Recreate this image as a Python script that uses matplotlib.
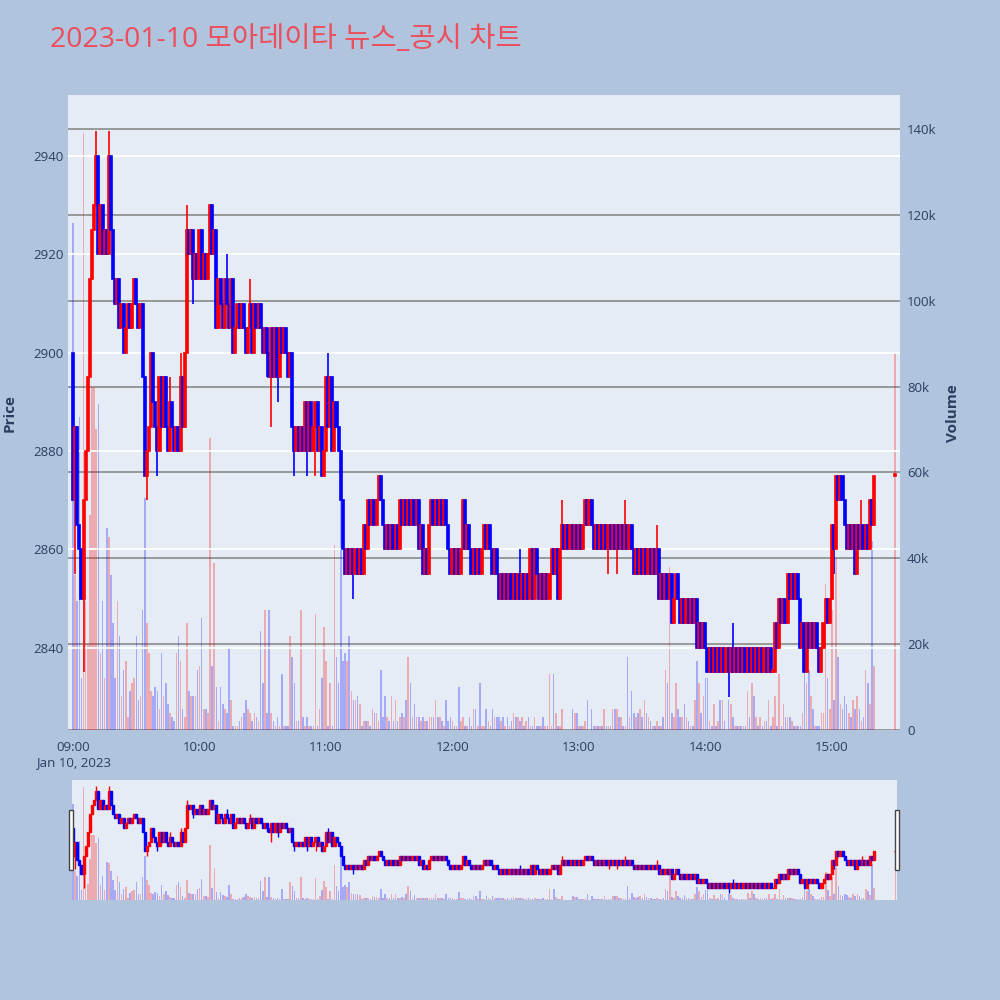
import matplotlib
matplotlib.use("Agg")
import matplotlib.pyplot as plt
from matplotlib.patches import Rectangle

plt.rcParams['font.family'] = ['Open Sans', 'Noto Sans CJK KR', 'DejaVu Sans']

title = '2023-01-10 모아데이타 뉴스_공시 차트'

# one close per minute from 09:00 (minute 0) to 15:20 (minute 380)
first_open = 2900
closes = [
    2870, 2885, 2865, 2860, 2850, 2870, 2880, 2895, 2915, 2925, 2930, 2940,   # 09:00
    2920, 2930, 2920, 2925, 2920, 2940, 2925, 2915, 2910, 2915, 2905, 2910,
    2900, 2905, 2910, 2905, 2910, 2915, 2910, 2905, 2910, 2895, 2875, 2880,
    2885, 2900, 2890, 2885, 2880, 2895, 2885, 2895,
    2885, 2880, 2890, 2885, 2880, 2885, 2880, 2895, 2885, 2900, 2925, 2920,
    2925, 2915, 2920, 2915, 2925, 2915, 2920, 2915, 2920, 2930, 2920, 2925,   # 10:00
    2905, 2915, 2910, 2905, 2915, 2910, 2905, 2915, 2900, 2905, 2910, 2905,
    2910, 2905, 2900, 2905, 2910, 2900, 2910, 2905, 2910, 2905, 2900, 2905,
    2900, 2895, 2905, 2895, 2905, 2895, 2905, 2900, 2905, 2900, 2895, 2900,
    2885, 2880, 2885, 2880, 2885, 2880, 2890, 2880, 2890, 2880, 2885, 2890,
    2880, 2885, 2875, 2880, 2895, 2885, 2895, 2880, 2890, 2885, 2880, 2870,   # 11:00
    2860, 2855, 2860, 2855, 2860, 2855, 2860, 2855, 2860, 2855, 2865, 2860,
    2870, 2865, 2870, 2865, 2870, 2875, 2870, 2865, 2860, 2865, 2860, 2865,
    2860, 2865, 2860, 2870, 2865, 2870, 2865, 2870, 2865, 2870, 2865, 2870,
    2860, 2865, 2855, 2860, 2855, 2865, 2870, 2865, 2870, 2865, 2870, 2865,
    2870, 2865, 2860, 2855, 2860, 2855, 2860, 2855, 2860, 2870, 2860, 2865,   # 12:00
    2860, 2855, 2860, 2855, 2860, 2855, 2860, 2865, 2860, 2865, 2860, 2855,
    2860, 2855, 2850, 2855, 2850, 2855, 2850, 2855, 2850, 2855, 2850, 2855,
    2850, 2855, 2850, 2855, 2850, 2860, 2850, 2860, 2855, 2850, 2855, 2850,
    2855, 2850, 2855, 2860, 2855, 2860, 2850, 2860, 2865, 2860, 2865, 2860,
    2865, 2860, 2865, 2860, 2865, 2860, 2865, 2870, 2865, 2870, 2865, 2860,   # 13:00
    2865, 2860, 2865, 2860, 2865, 2860, 2865, 2860, 2865, 2860, 2865, 2860,
    2865, 2860, 2865, 2860, 2865, 2860, 2855, 2860, 2855, 2860, 2855, 2860,
    2855, 2860, 2855, 2860, 2855, 2860, 2850, 2855, 2850, 2855, 2850, 2855,
    2845, 2850, 2855, 2850, 2845, 2850, 2845, 2850, 2845, 2850, 2845, 2850,
    2840, 2845, 2840, 2845, 2840, 2835, 2840, 2835, 2840, 2835, 2840, 2835,   # 14:00
    2840, 2835, 2840, 2835, 2840, 2835, 2840, 2835, 2840, 2835, 2840, 2835,
    2840, 2835, 2840, 2835, 2840, 2835, 2840, 2835, 2840, 2835, 2840, 2835,
    2835, 2845, 2840, 2850, 2845, 2850, 2845, 2855, 2850, 2855, 2850, 2855,
    2850, 2840, 2845, 2835, 2845, 2840, 2845, 2840, 2845, 2840, 2835, 2840,
    2845, 2850, 2845, 2850, 2865, 2860, 2875, 2870, 2875, 2870, 2865, 2860,   # 15:00
    2865, 2860, 2865, 2855, 2865, 2860, 2865, 2860, 2865, 2860, 2870, 2865, 2875,
]
high_wicks = {11: 2945, 17: 2945, 46: 2895, 51: 2900, 54: 2930, 73: 2920,
              84: 2915, 121: 2900, 212: 2860, 232: 2870, 243: 2870, 262: 2870,
              277: 2865, 313: 2845, 374: 2870}
low_wicks = {1: 2855, 5: 2835, 35: 2870, 40: 2875, 57: 2910, 92: 2895, 94: 2885,
             97: 2890, 105: 2875, 111: 2875, 115: 2875, 133: 2850, 254: 2855,
             258: 2855, 311: 2830, 361: 2855}

# volume per minute, thousands
volumes = [
    118, 36, 30, 73, 12, 139, 30, 20, 50, 80, 80, 70,
    76, 18, 30, 12, 47, 45, 36, 25, 12, 30, 22, 8,
    14, 16, 3, 9, 11, 12, 22, 7, 8, 28, 54, 25,
    18, 9, 8, 10, 9, 5, 18, 8,
    11, 6, 4, 3, 2, 18, 22, 16, 5, 3, 25, 9,
    8, 8, 8, 14, 15, 26, 5, 5, 4, 68, 15, 39,
    10, 2, 10, 6, 5, 4, 19, 7, 1, 1, 1, 2,
    3, 4, 7, 5, 4, 2, 4, 3, 2, 23, 11, 28,
    4, 28, 4, 2, 1, 3, 1, 13, 1, 1, 1, 22,
    17, 11, 2, 2, 28, 3, 1, 3, 1, 1, 1, 27,
    1, 5, 12, 24, 16, 1, 11, 1, 43, 17, 11, 64,
    16, 18, 16, 22, 9, 7, 7, 8, 6, 1, 2, 2,
    2, 1, 5, 4, 4, 2, 14, 3, 8, 3, 2, 8,
    2, 7, 2, 3, 4, 3, 7, 17, 11, 3, 6, 3,
    3, 2, 3, 2, 2, 3, 3, 3, 7, 3, 3, 2,
    1, 7, 2, 3, 2, 1, 1, 10, 2, 3, 1, 1,
    3, 1, 5, 5, 1, 11, 1, 1, 5, 2, 1, 5,
    3, 3, 3, 2, 3, 1, 3, 1, 2, 4, 3, 3,
    2, 3, 1, 2, 3, 1, 1, 3, 1, 1, 1, 3,
    1, 1, 13, 1, 13, 4, 1, 1, 5, 0, 0, 0,
    0, 5, 4, 4, 1, 1, 1, 2, 7, 0, 5, 1,
    1, 1, 1, 1, 5, 1, 1, 1, 5, 5, 5, 3,
    3, 1, 1, 17, 3, 9, 4, 3, 4, 5, 3, 7,
    4, 3, 2, 1, 1, 2, 1, 1, 3, 14, 11, 38,
    4, 3, 11, 5, 3, 3, 6, 3, 2, 1, 1, 7,
    16, 11, 4, 8, 12, 12, 2, 1, 6, 1, 2, 7,
    7, 2, 0, 7, 6, 3, 1, 1, 1, 1, 1, 1,
    9, 3, 11, 8, 3, 1, 3, 1, 2, 2, 7, 1,
    3, 8, 1, 13, 1, 6, 3, 3, 3, 2, 1, 1,
    1, 1, 4, 15, 11, 14, 8, 5, 1, 1, 1, 4,
    4, 34, 12, 5, 28, 7, 40, 17, 6, 5, 8, 6,
    4, 3, 7, 5, 8, 5, 2, 3, 14, 11, 6, 44, 15,
]

# closing auction at 15:30
auction_minute = 390
auction_price = 2875
auction_volume = 88

tick_minutes = [0, 60, 120, 180, 240, 300, 360]
tick_labels = ['09:00\nJan 10, 2023', '10:00', '11:00', '12:00', '13:00', '14:00', '15:00']
price_ticks = [2840, 2860, 2880, 2900, 2920, 2940]
vol_ticks = [0, 20, 40, 60, 80, 100, 120, 140]

UP = '#ff0000'
DOWN = '#0000ff'
TXT = '#2a3f5f'

minutes = list(range(len(closes))) + [auction_minute]
c_all = closes + [auction_price]
o_all = [first_open] + closes[:-1] + [auction_price]
v_all = volumes + [auction_volume]
highs, lows, cols = [], [], []
for i, (o, c) in enumerate(zip(o_all, c_all)):
    highs.append(high_wicks.get(i, max(o, c)))
    lows.append(low_wicks.get(i, min(o, c)))
    cols.append(UP if c >= o else DOWN)


def draw(ax_p, ax_v, body_w, lw):
    ax_v.bar(minutes, v_all, width=0.75, color=cols, alpha=0.28, linewidth=0)
    ax_p.vlines(minutes, lows, highs, colors=cols, linewidth=lw, zorder=3)
    bottoms = [min(o, c) for o, c in zip(o_all, c_all)]
    heights = [max(abs(c - o), 0.4) for o, c in zip(o_all, c_all)]
    ax_p.bar(minutes, heights, bottom=bottoms, width=body_w, color=cols,
             edgecolor=cols, linewidth=lw, zorder=4)


fig = plt.figure(figsize=(10, 10), dpi=100, facecolor='#B0C4DE')

# main chart: volume behind, price in front
ax_v = fig.add_axes([0.068, 0.27, 0.832, 0.635])
ax_v.set_facecolor('#E5ECF6')
ax_p = ax_v.twinx()
ax_p.yaxis.tick_left()
ax_v.yaxis.tick_right()

draw(ax_p, ax_v, 1.0, 1.2)

ax_v.set_xlim(-2.4, 392.3)
ax_v.set_ylim(0, 147.9)
ax_p.set_ylim(2823.3, 2952.4)

ax_v.set_yticks(vol_ticks)
ax_v.set_yticklabels(['0'] + ['%dk' % v for v in vol_ticks[1:]])
ax_p.set_yticks(price_ticks)
ax_p.set_yticklabels([str(p) for p in price_ticks])
ax_v.set_xticks(tick_minutes)
ax_v.set_xticklabels(tick_labels)

ax_v.grid(axis='y', color='#8a8a8a', linewidth=1.2)
ax_v.set_axisbelow(True)
ax_p.grid(axis='y', color='white', linewidth=1.3, zorder=1)
ax_p.set_axisbelow(True)

for a in (ax_v, ax_p):
    for s in a.spines.values():
        s.set_visible(False)
    a.tick_params(length=0, labelsize=9.5, colors=TXT)
ax_v.tick_params(axis='x', pad=8)
ax_v.tick_params(axis='y', pad=5)
ax_p.tick_params(axis='y', pad=3)

fig.text(0.05, 0.960, title, fontsize=20.5, color='#EC4E5C', va='center', ha='left')
fig.text(0.010, 0.587, 'Price', rotation=90, va='center', ha='center',
         fontsize=11, fontweight='bold', color=TXT)
fig.text(0.953, 0.587, 'Volume', rotation=90, va='center', ha='center',
         fontsize=11, fontweight='bold', color=TXT)

# range slider
rs_v = fig.add_axes([0.072, 0.10, 0.825, 0.12])
rs_v.set_facecolor('#E5ECF6')
rs_p = rs_v.twinx()
draw(rs_p, rs_v, 1.0, 1.0)
rs_v.set_xlim(-0.5, 390.8)
rs_v.set_ylim(0, 147.9)
rs_p.set_ylim(2822, 2951.5)
for a in (rs_v, rs_p):
    a.set_xticks([])
    a.set_yticks([])
    for s in a.spines.values():
        s.set_visible(False)

for hx in (0.0693, 0.8953):
    fig.patches.append(Rectangle((hx, 0.13), 0.004, 0.06, transform=fig.transFigure,
                                 facecolor='white', edgecolor='#444444', linewidth=1.0))

fig.savefig('out.png', dpi=100, facecolor=fig.get_facecolor())
